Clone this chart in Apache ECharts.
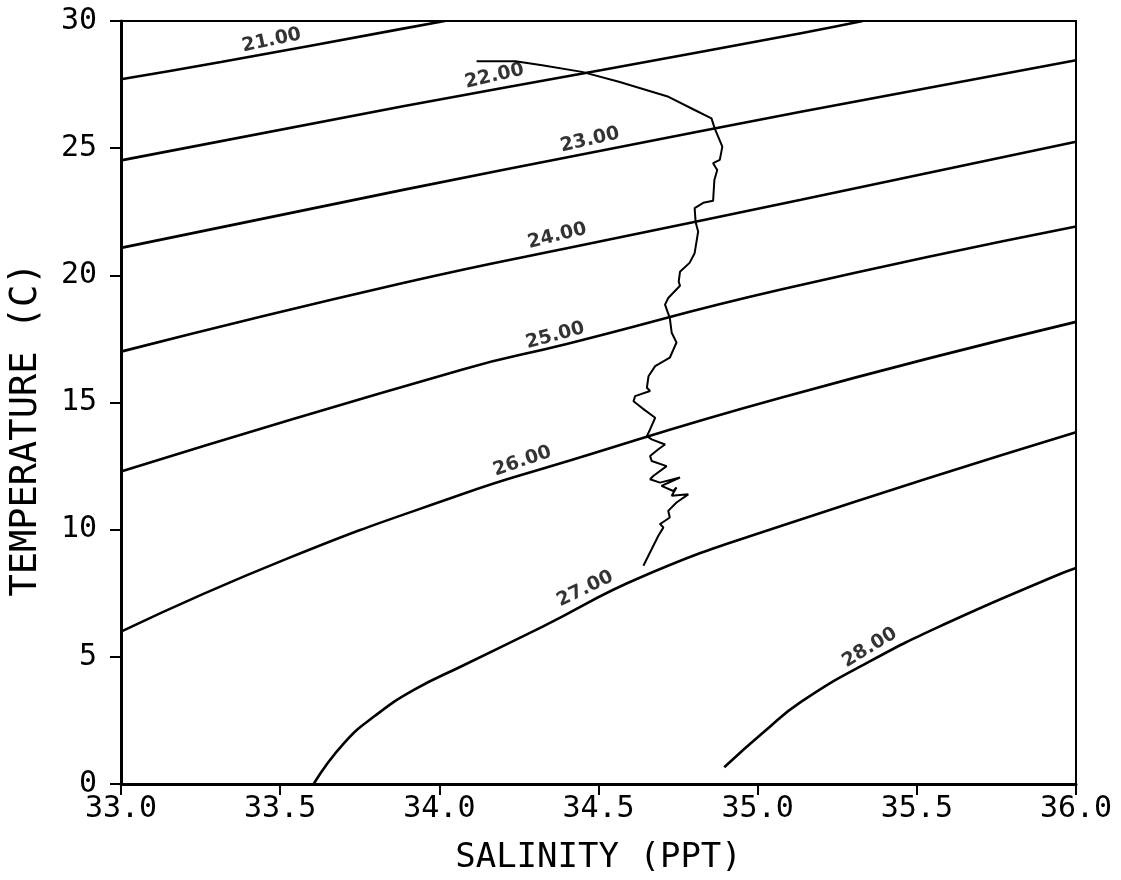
<!DOCTYPE html>
<html>
<head>
<meta charset="utf-8">
<script src="https://cdn.jsdelivr.net/npm/echarts@6/dist/echarts.min.js"></script>
<style>
html,body{margin:0;padding:0;background:#fff;}
#chart{width:1121px;height:880px;}
</style>
</head>
<body>
<div id="chart"></div>
<script>
// Sigma-t contour lines: [salinity, temperature]
const sigma21 = [[33.0,27.71],[33.314,28.39],[33.886,29.70],[34.017,30.0]];
const sigma22 = [[33.0,24.52],[33.886,26.65],[34.511,28.07],[35.136,29.52],[35.33,30.0]];
const sigma23 = [[33.0,21.08],[33.886,23.36],[34.511,24.91],[35.136,26.43],[36.0,28.46]];
const sigma24 = [[33.0,17.00],[33.886,19.70],[34.511,21.35],[35.136,22.97],[36.0,25.25]];
const sigma25 = [[33.0,12.29],[34.073,16.30],[34.40,17.30],[35.073,19.44],[36.0,21.92]];
const sigma26 = [[33.0,5.99],[33.52,8.85],[34.073,11.40],[34.355,12.51],[35.073,15.19],[36.0,18.17]];
const sigma27 = [[33.605,0.0],[33.70,1.60],[33.80,2.70],[33.92,3.70],[34.073,4.65],[34.323,6.18],[34.642,8.18],[35.073,10.14],[36.0,13.83]];
const sigma28 = [[34.895,0.66],[35.02,2.05],[35.136,3.23],[35.355,4.84],[35.595,6.33],[35.927,8.14],[36.0,8.49]];

// Contour label texts, anchor positions [S, T] and rotation (deg)
const contourLabels = ['21.00','22.00','23.00','24.00','25.00','26.00','27.00','28.00'];
const labelPos = [[33.473,29.24],[34.173,27.83],[34.473,25.32],[34.370,21.55],[34.364,17.63],[34.261,12.69],[34.458,7.67],[35.352,5.36]];
const labelRot = [12,13,13,14,15,19,26,31];

// Observed T-S profile [salinity, temperature]
const profile = [
[34.117,28.42],[34.239,28.42],[34.323,28.26],[34.448,28.00],[34.564,27.61],[34.720,27.02],
[34.802,26.50],[34.855,26.17],[34.865,25.78],[34.889,25.06],[34.881,24.54],[34.860,24.41],
[34.873,24.14],[34.864,23.75],[34.860,22.93],[34.829,22.85],[34.802,22.64],[34.805,22.10],
[34.813,21.72],[34.802,20.87],[34.786,20.49],[34.756,20.14],[34.752,19.75],[34.756,19.59],
[34.719,19.11],[34.709,18.85],[34.724,18.32],[34.730,17.74],[34.745,17.36],[34.724,16.76],
[34.678,16.43],[34.657,16.03],[34.652,15.58],[34.662,15.45],[34.615,15.25],[34.610,15.05],
[34.636,14.79],[34.678,14.40],[34.662,13.94],[34.652,13.68],[34.667,13.55],[34.709,13.35],
[34.688,13.16],[34.662,12.90],[34.667,12.70],[34.714,12.50],[34.672,12.11],[34.662,11.98],
[34.693,11.85],[34.756,12.05],[34.698,11.72],[34.735,11.52],[34.745,11.66],[34.730,11.33],
[34.782,11.39],[34.745,11.07],[34.719,10.74],[34.724,10.48],[34.709,10.35],[34.693,10.22],
[34.704,10.09],[34.688,9.76],[34.641,8.58]
];

const xTicks = {min:33.0, max:36.0, interval:0.5};
const yTicks = {min:0, max:30, interval:5};

const contours = [sigma21,sigma22,sigma23,sigma24,sigma25,sigma26,sigma27,sigma28];

const chart = echarts.init(document.getElementById('chart'), null, {renderer:'canvas'});
const series = contours.map((c,i)=>({
  type:'line', name:contourLabels[i], data:c, showSymbol:false, smooth:0.5,
  clip:true, silent:true,
  lineStyle:{color:'#000', width:2.6}
}));
series.push({
  type:'line', name:'profile', data:profile, showSymbol:false, smooth:false, silent:true,
  lineStyle:{color:'#000', width:2}
});
series.push({
  type:'scatter', name:'labels', symbolSize:0, silent:true,
  data: labelPos.map((p,i)=>({value:p, label:{rotate:labelRot[i], formatter:contourLabels[i]}})),
  label:{show:true, position:'inside', color:'#000', fontFamily:'DejaVu Sans', fontWeight:'bold', fontSize:19}
});

const axisFont = 'DejaVu Sans Mono';
chart.setOption({
  animation:false,
  backgroundColor:'#fff',
  grid:{left:116, right:45, top:21, bottom:95, show:true, borderColor:'#000', borderWidth:2, containLabel:false},
  xAxis:{
    type:'value', min:xTicks.min, max:xTicks.max, interval:xTicks.interval,
    name:'SALINITY (PPT)', nameLocation:'middle', nameGap:57,
    nameTextStyle:{fontFamily:axisFont, fontSize:34, color:'#000'},
    axisLine:{show:true, onZero:false, lineStyle:{color:'#000', width:3}},
    axisTick:{show:true, inside:false, length:11, lineStyle:{color:'#000', width:2}},
    axisLabel:{margin:10, fontFamily:axisFont, fontSize:30, color:'#000', formatter:v=>v.toFixed(1)},
    splitLine:{show:false}
  },
  yAxis:{
    type:'value', min:yTicks.min, max:yTicks.max, interval:yTicks.interval,
    name:'TEMPERATURE (C)', nameLocation:'middle', nameGap:76,
    nameTextStyle:{fontFamily:axisFont, fontSize:37, color:'#000', padding:[0,54,0,0]},
    axisLine:{show:true, onZero:false, lineStyle:{color:'#000', width:3}},
    axisTick:{show:true, inside:false, length:11, lineStyle:{color:'#000', width:2}},
    axisLabel:{margin:24, fontFamily:axisFont, fontSize:30, color:'#000'},
    splitLine:{show:false}
  },
  series:series
});
</script>
</body>
</html>
